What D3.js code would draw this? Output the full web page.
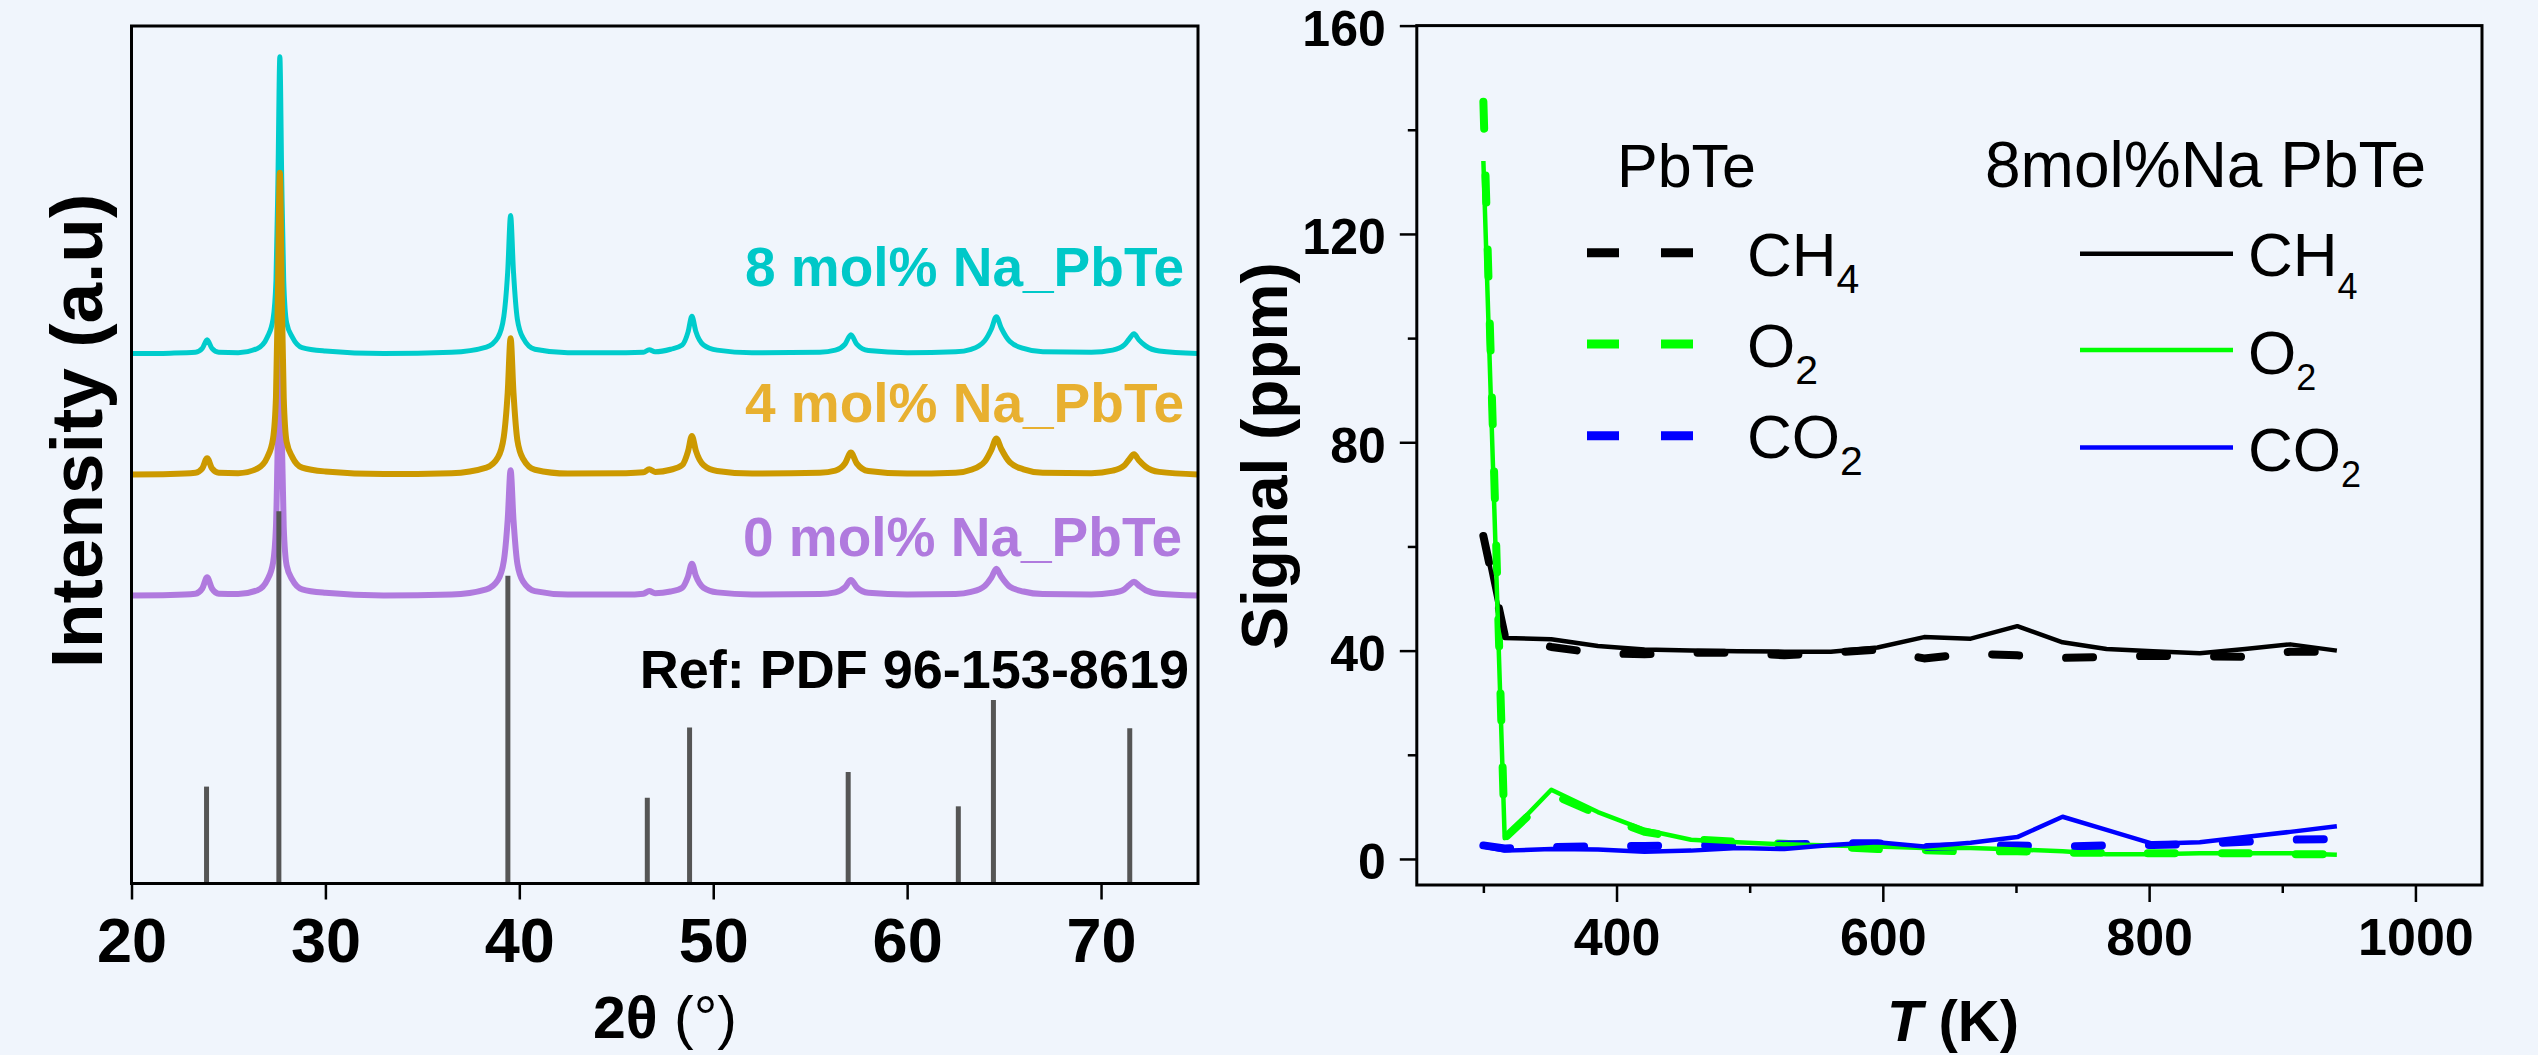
<!DOCTYPE html>
<html>
<head>
<meta charset="utf-8">
<script src="https://cdn.jsdelivr.net/npm/d3@7"></script>
<style>
  body { margin: 0; background: #f0f5fc; }
  text { font-family: "Liberation Sans", Arial, sans-serif; }
</style>
</head>
<body>
<svg id="fig" width="2538" height="1055"></svg>
<script>
// ---------- left panel: XRD ----------
const twoTheta = [20, 22, 23.3, 23.65, 23.9, 24.15, 24.5, 25.5, 26.5, 27.0, 27.3, 27.45, 27.55, 27.65, 27.75, 27.85, 28.0, 28.3, 28.8,
  30, 33, 36.5, 38.3, 38.9, 39.2, 39.4, 39.55, 39.7, 39.9, 40.2, 40.8, 42.5, 45.5, 46.4, 46.7, 47.0,
  47.8, 48.4, 48.7, 48.9, 49.1, 49.5, 50.2, 52, 55.5, 56.3, 56.8, 57.1, 57.4, 58.0, 60, 62.5,
  63.3, 64.0, 64.35, 64.6, 64.85, 65.3, 66.0, 67.0, 69.5, 70.6, 71.2, 71.45, 71.7, 71.95, 72.3, 73.0, 75];

const na8 = [0, 0.05, 0.15, 0.6, 1.6, 0.6, 0.15, 0.1, 0.6, 1.9, 4.0, 8.5, 20, 34.6, 20, 8.5, 3.6, 1.9, 0.7,
  0.3, 0, 0.15, 0.75, 1.9, 4.3, 9.5, 16.1, 9.5, 4.0, 1.8, 0.5, 0.1, 0.1, 0.15, 0.45, 0.2,
  0.5, 1.0, 2.5, 4.35, 2.6, 1.0, 0.4, 0.1, 0.15, 0.4, 1.1, 2.2, 1.1, 0.35, 0.1, 0.2,
  0.5, 1.5, 2.9, 4.3, 3.0, 1.4, 0.6, 0.2, 0.15, 0.4, 1.0, 1.7, 2.3, 1.6, 0.9, 0.3, 0];

const na4 = [0, 0.05, 0.2, 0.7, 1.9, 0.7, 0.2, 0.15, 0.7, 2.0, 4.2, 9, 21, 35.2, 21, 9, 3.8, 2.0, 0.8,
  0.35, 0.05, 0.15, 0.8, 2.0, 4.4, 9.5, 15.9, 9.5, 4.0, 1.8, 0.55, 0.1, 0.15, 0.25, 0.6, 0.3,
  0.55, 1.1, 2.7, 4.5, 2.8, 1.1, 0.4, 0.1, 0.2, 0.45, 1.3, 2.55, 1.3, 0.4, 0.1, 0.2,
  0.55, 1.5, 2.9, 4.2, 3.0, 1.4, 0.6, 0.2, 0.15, 0.45, 1.05, 1.75, 2.35, 1.65, 0.9, 0.3, 0];

const na0 = [0, 0.05, 0.2, 0.8, 2.1, 0.8, 0.2, 0.15, 0.6, 1.8, 3.8, 8, 19, 33, 19, 8, 3.5, 1.8, 0.7,
  0.3, 0, 0.1, 0.7, 1.8, 4.0, 8.8, 14.6, 8.8, 3.7, 1.6, 0.5, 0.1, 0.1, 0.2, 0.5, 0.25,
  0.45, 0.9, 2.2, 3.7, 2.3, 0.9, 0.35, 0.1, 0.15, 0.35, 0.95, 1.8, 0.95, 0.3, 0.1, 0.15,
  0.4, 1.1, 2.1, 3.1, 2.2, 1.0, 0.45, 0.15, 0.1, 0.3, 0.7, 1.2, 1.6, 1.15, 0.6, 0.2, 0];

// vertical offsets of the stacked patterns
const offsets = { na0: 33.6, na4: 47.7, na8: 61.8 };

// reference pattern PDF 96-153-8619
const refPos = [23.87, 27.6, 39.41, 46.6, 48.78, 56.96, 62.64, 64.45, 71.48];
const refInt = [11.3, 43.4, 35.9, 10.0, 18.2, 13.0, 9.0, 21.4, 18.1];

const xTicksL = [20, 30, 40, 50, 60, 70];

// ---------- right panel: gas signal ----------
const temps = [300, 316, 351, 386, 421, 456, 491, 526, 561, 596, 631, 666, 701, 735, 768, 803, 838, 872, 906, 941];
const ch4Pb = [62.0, 43.0, 40.7, 39.5, 39.3, 39.6, 39.6, 39.1, 39.6, 40.2, 38.5, 39.4, 39.1, 38.6, 38.8, 39.0, 38.9, 38.8, 39.8, 39.8];
const o2Pb  = [145.4, 4.0, 12.5, 8.6, 5.2, 3.8, 3.3, 2.9, 2.4, 1.9, 1.7, 1.4, 1.5, 1.2, 1.2, 1.1, 1.1, 1.1, 0.9, 0.9];
const co2Pb = [2.6, 2.0, 2.3, 2.4, 2.5, 2.6, 2.6, 2.8, 3.0, 3.0, 2.3, 2.5, 2.6, 2.4, 2.6, 2.7, 2.9, 3.3, 3.7, 3.8];
const ch4Na = [62.2, 42.4, 42.2, 40.9, 40.2, 40.0, 39.9, 39.8, 39.8, 40.6, 42.6, 42.3, 44.7, 41.6, 40.3, 39.9, 39.5, 40.3, 41.2, 40.0];
const o2Na  = [134, 4.0, 13.3, 9.0, 5.6, 3.7, 3.2, 2.8, 2.6, 2.4, 2.1, 2.1, 1.8, 1.5, 0.9, 0.9, 1.1, 1.1, 1.1, 0.8];
const co2Na = [2.4, 1.6, 1.9, 1.8, 1.4, 1.6, 2.1, 1.9, 2.7, 3.2, 2.4, 3.1, 4.2, 8.1, 5.6, 2.9, 3.2, 4.2, 5.2, 6.3];

const xTicksR = [400, 600, 800, 1000];
const xMinorR = [300, 500, 700, 900];
const yTicksR = [0, 40, 80, 120, 160];
const yMinorR = [20, 60, 100, 140];

const svg = d3.select("#fig");
svg.append("rect").attr("width", 2538).attr("height", 1055).attr("fill", "#f0f5fc");

// ================= left =================
const xL = d3.scaleLinear().domain([20, 75]).range([131.5, 1198]);
const yL = d3.scaleLinear().domain([0, 100]).range([883.5, 26]);

const left = svg.append("g");

const xrdLine = off => d3.line()
  .x((d, i) => xL(twoTheta[i]))
  .y(d => yL(off + d))
  .curve(d3.curveMonotoneX);

const patterns = [
  { v: na8, off: offsets.na8, color: "#00cccc", w: 5 },
  { v: na0, off: offsets.na0, color: "#b07ade", w: 6 },
  { v: na4, off: offsets.na4, color: "#cc9900", w: 6 }
];
patterns.forEach(p => {
  left.append("path")
    .datum(p.v)
    .attr("fill", "none")
    .attr("stroke", p.color)
    .attr("stroke-width", p.w)
    .attr("stroke-linejoin", "round")
    .attr("d", xrdLine(p.off));
});

left.selectAll(".stick")
  .data(refPos)
  .enter().append("line")
  .attr("x1", d => xL(d)).attr("x2", d => xL(d))
  .attr("y1", yL(0))
  .attr("y2", (d, i) => yL(refInt[i]))
  .attr("stroke", "#555")
  .attr("stroke-width", 5);

left.append("rect")
  .attr("x", xL(20)).attr("y", yL(100))
  .attr("width", xL(75) - xL(20)).attr("height", yL(0) - yL(100))
  .attr("fill", "none").attr("stroke", "#000").attr("stroke-width", 3);

const axL = left.append("g")
  .attr("transform", `translate(0,${yL(0)})`)
  .call(d3.axisBottom(xL).tickValues(xTicksL).tickSize(16).tickPadding(18));
axL.select(".domain").remove();
axL.selectAll("line").attr("stroke", "#000").attr("stroke-width", 2.5);
axL.selectAll("text")
  .attr("font-size", 63).attr("font-weight", "bold").attr("fill", "#000")
  .style("font-family", "Liberation Sans, Arial, sans-serif");

left.append("text")
  .attr("transform", "translate(102,431) rotate(-90)")
  .attr("text-anchor", "middle")
  .attr("font-size", 73).attr("font-weight", "bold")
  .text("Intensity (a.u)");

const xt = left.append("text")
  .attr("x", 665).attr("y", 1038)
  .attr("text-anchor", "middle")
  .attr("font-size", 59);
xt.append("tspan").attr("font-weight", "bold").text("2θ");
xt.append("tspan").text(" (°)");

const labelsL = [
  { t: "8 mol% Na_PbTe", c: "#00c8c8", x: 1184, y: 286 },
  { t: "4 mol% Na_PbTe", c: "#e8b030", x: 1184, y: 422 },
  { t: "0 mol% Na_PbTe", c: "#b07ade", x: 1182, y: 556 },
  { t: "Ref: PDF 96-153-8619", c: "#000", x: 1189, y: 688 }
];
labelsL.forEach((l, i) => {
  left.append("text")
    .attr("x", l.x).attr("y", l.y)
    .attr("text-anchor", "end")
    .attr("font-size", i === 3 ? 54 : 55).attr("font-weight", "bold")
    .attr("fill", l.c)
    .text(l.t);
});

// ================= right =================
const xR = d3.scaleLinear().domain([250, 1050]).range([1416.8, 2482]);
const yR = d3.scaleLinear().domain([-5, 160]).range([885, 25.6]);
const right = svg.append("g");

const gasLine = d3.line().x((d, i) => xR(temps[i])).y(d => yR(d));

const dashed = [
  { v: ch4Pb, c: "#000" },
  { v: o2Pb, c: "#00ff00" },
  { v: co2Pb, c: "#0000ff" }
];
const solid = [
  { v: ch4Na, c: "#000" },
  { v: o2Na, c: "#00ff00" },
  { v: co2Na, c: "#0000ff" }
];
dashed.forEach(s => {
  right.append("path").datum(s.v)
    .attr("fill", "none").attr("stroke", s.c)
    .attr("stroke-width", 8).attr("stroke-dasharray", "27,47")
    .attr("stroke-linecap", "round").attr("stroke-linejoin", "round")
    .attr("d", gasLine);
});
solid.forEach(s => {
  right.append("path").datum(s.v)
    .attr("fill", "none").attr("stroke", s.c)
    .attr("stroke-width", 4.5).attr("stroke-linejoin", "round")
    .attr("d", gasLine);
});

right.append("rect")
  .attr("x", xR(250)).attr("y", yR(160))
  .attr("width", xR(1050) - xR(250)).attr("height", yR(-5) - yR(160))
  .attr("fill", "none").attr("stroke", "#000").attr("stroke-width", 3);

const axRx = right.append("g").attr("transform", `translate(0,${yR(-5)})`)
  .call(d3.axisBottom(xR).tickValues(xTicksR).tickFormat(d3.format("d")).tickSize(17).tickPadding(16));
const axRxm = right.append("g").attr("transform", `translate(0,${yR(-5)})`)
  .call(d3.axisBottom(xR).tickValues(xMinorR).tickSize(8).tickFormat(""));
const axRy = right.append("g").attr("transform", `translate(${xR(250)},0)`)
  .call(d3.axisLeft(yR).tickValues(yTicksR).tickSize(17).tickPadding(14));
const axRym = right.append("g").attr("transform", `translate(${xR(250)},0)`)
  .call(d3.axisLeft(yR).tickValues(yMinorR).tickSize(9).tickFormat(""));
[axRx, axRxm, axRy, axRym].forEach(a => {
  a.select(".domain").remove();
  a.selectAll("line").attr("stroke", "#000").attr("stroke-width", 2.5);
  a.selectAll("text")
    .attr("font-size", 52).attr("font-weight", "bold").attr("fill", "#000")
    .style("font-family", "Liberation Sans, Arial, sans-serif");
});
axRy.selectAll("text").attr("font-size", 50).attr("dy", 20);

right.append("text")
  .attr("transform", "translate(1287,456) rotate(-90)")
  .attr("text-anchor", "middle")
  .attr("font-size", 64).attr("font-weight", "bold")
  .text("Signal (ppm)");

const tt = right.append("text")
  .attr("x", 1953).attr("y", 1041)
  .attr("text-anchor", "middle")
  .attr("font-size", 58).attr("font-weight", "bold");
tt.append("tspan").attr("font-style", "italic").text("T");
tt.append("tspan").text(" (K)");

// legend
const legNames = [["CH", "4"], ["O", "2"], ["CO", "2"]];
const legColors = ["#000", "#00ff00", "#0000ff"];
const legLeftY = [252.7, 344, 435.7];
const legLeftBase = [276, 367, 458];
const legRightY = [253.7, 350, 447.5];
const legRightBase = [276, 373.5, 471];

right.append("text").attr("x", 1617).attr("y", 187).attr("font-size", 61).text("PbTe");
right.append("text").attr("x", 1985).attr("y", 187).attr("font-size", 64).text("8mol%Na PbTe");

legNames.forEach((n, i) => {
  right.append("line")
    .attr("x1", 1587).attr("x2", 1693)
    .attr("y1", legLeftY[i]).attr("y2", legLeftY[i])
    .attr("stroke", legColors[i]).attr("stroke-width", 9)
    .attr("stroke-dasharray", "32,42");
  const t1 = right.append("text").attr("x", 1747).attr("y", legLeftBase[i]).attr("font-size", 62);
  t1.append("tspan").text(n[0]);
  t1.append("tspan").attr("font-size", 41).attr("dy", 17).text(n[1]);

  right.append("line")
    .attr("x1", 2080).attr("x2", 2233)
    .attr("y1", legRightY[i]).attr("y2", legRightY[i])
    .attr("stroke", legColors[i]).attr("stroke-width", 4.5);
  const t2 = right.append("text").attr("x", 2248).attr("y", legRightBase[i]).attr("font-size", 62);
  t2.append("tspan").text(n[0]);
  t2.append("tspan").attr("font-size", 36).attr("dy", i === 0 ? 23 : 16).text(n[1]);
});
</script>
</body>
</html>
